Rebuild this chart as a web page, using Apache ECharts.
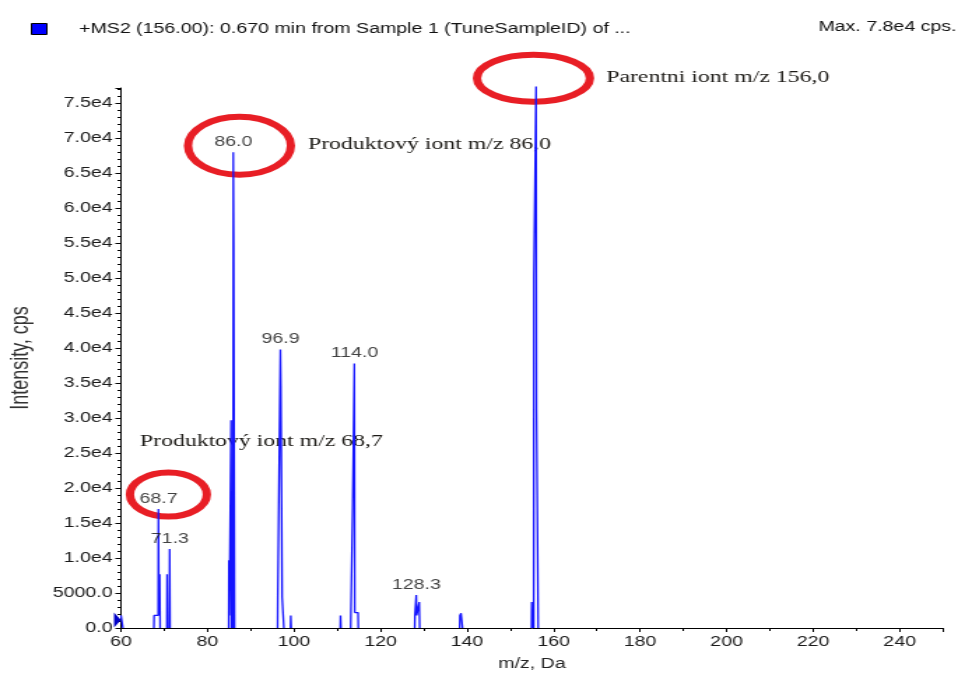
<!DOCTYPE html>
<html>
<head>
<meta charset="utf-8">
<script src="https://cdn.jsdelivr.net/npm/echarts@6/dist/echarts.min.js"></script>
<style>
  html, body { margin: 0; padding: 0; background: #fff; overflow: hidden; }
  #wrap { width: 965px; height: 673px; overflow: hidden; }
  /* the spectrum export is drawn on a narrow canvas and widened horizontally */
  #chart { width: 690px; height: 673px; transform: scaleX(1.39855); transform-origin: 0 0; }
</style>
</head>
<body>
<div id="wrap"><div id="chart"></div></div>
<script>
// ---- spectrum data -------------------------------------------------------
const seriesName = '+MS2 (156.00): 0.670 min from Sample 1 (TuneSampleID) of ...';
const maxNote = 'Max. 7.8e4 cps.';

// profile points (m/z, intensity in cps)
const mzProfile = [
  60.0, 60.4, 60.5,
  67.6, 67.7, 68.6, 68.7, 68.8, 68.9, 69.0, 69.1,
  70.6, 70.7, 70.8, 71.2, 71.3, 71.4,
  84.9, 85.0, 85.1, 85.4, 85.5, 85.6, 85.9, 86.0, 86.1, 86.2, 86.3,
  96.2, 96.3, 96.8, 96.9, 97.0, 97.2, 97.3, 97.6, 97.7,
  99.2, 99.3, 99.4,
  110.7, 110.8, 110.9,
  113.1, 113.2, 113.5, 113.6, 113.9, 114.0, 114.1, 114.8, 114.9,
  127.9, 128.0, 128.2, 128.3, 128.4, 128.9, 129.0, 129.1,
  138.3, 138.4, 138.8, 138.9, 139.0,
  154.9, 155.0, 155.1, 155.4, 155.5, 155.6, 155.9, 156.0, 156.1, 156.4, 156.5
];
const intensityProfile = [
  1800, 1800, 0,
  0, 1800, 1800, 17000, 1900, 1900, 7700, 0,
  0, 7700, 0, 0, 11300, 0,
  0, 9700, 1800, 1800, 29700, 0, 0, 68000, 54700, 54700, 0,
  0, 4700, 4700, 39800, 34600, 34600, 4400, 4400, 0,
  0, 1800, 0,
  0, 1800, 0,
  0, 2200, 2200, 17100, 17100, 37800, 2200, 2200, 0,
  0, 1800, 1800, 4700, 1800, 1800, 3700, 0,
  0, 1800, 2100, 2100, 0,
  0, 3700, 0, 0, 50200, 50200, 50200, 77400, 31200, 31200, 0
];

// labelled peak apexes
const peakMz = [68.7, 71.3, 86.0, 96.9, 114.0, 128.3, 156.0];
const peakIntensity = [17000, 11300, 68000, 39800, 37800, 4700, 77400];

// axis ranges
const xMin = 60, xMax = 250, xStep = 20;
const yMin = 0, yMax = 77200, yStep = 5000;

// circled ions with notes
const noteMz = [156.0, 86.0, 68.7];
const noteIntensity = [77400, 68000, 17000];
const noteText = ['Parentni iont m/z 156,0', 'Produktový iont m/z 86,0', 'Produktový iont m/z 68,7'];

// ---- build ---------------------------------------------------------------
const sans = '"Liberation Sans", Arial, sans-serif';
const serif = '"Liberation Serif", "Times New Roman", serif';

// profile drawn as a stair line (vertical edges half-way between samples);
// runs of zero intensity break the line so the baseline stays black
const profileData = [];
for (let i = 0; i < mzProfile.length; i++) {
  const v = intensityProfile[i];
  if (i === 0) { profileData.push([mzProfile[i], v]); continue; }
  const prev = intensityProfile[i - 1];
  if (v === 0 && prev === 0) {
    profileData.push([(mzProfile[i] + mzProfile[i - 1]) / 2, '-']);
    profileData.push([mzProfile[i], v]);
    continue;
  }
  const mid = (mzProfile[i] + mzProfile[i - 1]) / 2;
  profileData.push([mid, prev]);
  profileData.push([mid, v]);
  profileData.push([mzProfile[i], v]);
}
const peakData = peakMz.map((m, i) => [m, peakIntensity[i]]);

const chart = echarts.init(document.getElementById('chart'), null, { width: 690, height: 673 });

chart.setOption({
  animation: false,
  backgroundColor: '#ffffff',
  title: {
    text: maxNote, right: 1, top: 15,
    textStyle: { fontFamily: sans, fontSize: 14, fontWeight: 'normal', color: '#111' }
  },
  legend: {
    left: 17, top: 17, itemWidth: 11, itemHeight: 11,
    data: [{ name: seriesName, icon: 'rect',
             itemStyle: { color: '#0000ff', borderColor: '#000', borderWidth: 1 } }],
    textStyle: { fontFamily: sans, fontSize: 14, color: '#111', padding: [0, 0, 0, 18] },
    selectedMode: false
  },
  grid: { left: 86.5, right: 15.8, top: 88, bottom: 45, outerBoundsMode: 'none' },
  xAxis: {
    type: 'value', min: xMin, max: xMax, interval: xStep,
    name: 'm/z, Da', nameLocation: 'middle', nameGap: 29,
    nameTextStyle: { fontFamily: sans, fontSize: 14, color: '#222' },
    axisLine: { show: true, lineStyle: { color: '#000', width: 1 } },
    axisTick: { show: true, length: 4, lineStyle: { color: '#000' } },
    minorTick: { show: true, splitNumber: 2, length: 3, lineStyle: { color: '#000' } },
    axisLabel: { fontFamily: sans, fontSize: 14, color: '#1a1a1a', margin: 7, showMaxLabel: false },
    splitLine: { show: false }, minorSplitLine: { show: false }
  },
  yAxis: {
    type: 'value', min: yMin, max: yMax, interval: yStep,
    name: 'Intensity, cps', nameLocation: 'middle', nameGap: 62,
    nameTextStyle: { fontFamily: sans, fontSize: 18, color: '#333' },
    axisLine: { show: true, lineStyle: { color: '#000', width: 1 } },
    axisTick: { show: true, length: 4, lineStyle: { color: '#000' } },
    minorTick: { show: true, splitNumber: 5, length: 2.5, lineStyle: { color: '#000' } },
    axisLabel: {
      fontFamily: sans, fontSize: 14, color: '#1a1a1a', margin: 6, showMaxLabel: false,
      formatter: v => v === 0 ? '0.0' : (v < 1e4 ? v.toFixed(1) : (v / 1e4).toFixed(1) + 'e4')
    },
    splitLine: { show: false }, minorSplitLine: { show: false }
  },
  series: [
    {
      name: seriesName, type: 'line', data: profileData,
      showSymbol: false, symbol: 'none', connectNulls: false, clip: false,
      lineStyle: { color: '#1414ff', width: 1.3 },
      itemStyle: { color: '#0000ff' },
      z: 3,
      markPoint: {
        silent: true, symbol: 'triangle', symbolRotate: -90, symbolSize: [15, 5],
        symbolOffset: [-2.5, -8], itemStyle: { color: '#0000c8' }, label: { show: false },
        data: [{ coord: [xMin, 0] }]
      }
    },
    {
      name: 'peaks', type: 'scatter', data: peakData, symbolSize: 0, silent: true, z: 4,
      label: {
        show: true, position: 'top', distance: 3,
        fontFamily: sans, fontSize: 14, color: '#111',
        formatter: p => p.value[0].toFixed(1)
      }
    }
  ]
});

// red circles around the key ions and their notes (offsets in canvas pixels)
const noteShape = [
  { dx: -2,  dy: -8.4,  rx: 40.4, ry: 23.5, tx: 52,    ty: -1 },
  { dx: 4.3, dy: -6.6,  rx: 36.8, ry: 29,   tx: 49,    ty: -1.5 },
  { dx: 7,   dy: -14.5, rx: 27.5, ry: 22,   tx: -20.4, ty: -53.5 }
];
const notes = [];
noteMz.forEach((m, i) => {
  const p = chart.convertToPixel({ gridIndex: 0 }, [m, noteIntensity[i]]);
  const s = noteShape[i];
  const cx = p[0] + s.dx, cy = p[1] + s.dy;
  notes.push({
    type: 'ellipse', z: 1, silent: true,
    shape: { cx: cx, cy: cy, rx: s.rx, ry: s.ry },
    style: { fill: 'none', stroke: '#e81e25', lineWidth: 6 }
  });
  notes.push({
    type: 'text', z: 1, silent: true, x: cx + s.tx, y: cy + s.ty,
    style: { text: noteText[i], fontFamily: serif, fontSize: 17, fill: '#1c1a16',
             align: 'left', verticalAlign: 'middle' }
  });
});
chart.setOption({ graphic: { elements: notes } });
</script>
</body>
</html>
